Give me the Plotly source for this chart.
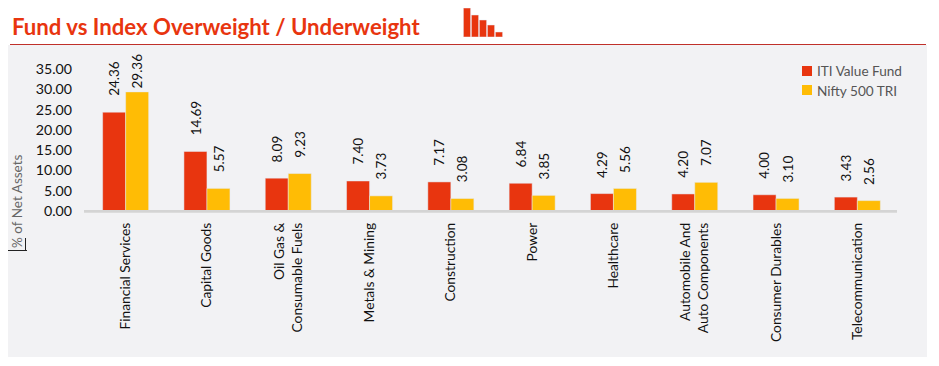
import plotly.graph_objects as go

categories = ["Financial Services", "Capital Goods", "Oil Gas &<br>Consumable Fuels", "Metals & Mining",
              "Construction", "Power", "Healthcare", "Automobile And<br>Auto Components",
              "Consumer Durables", "Telecommunication"]
fund_name = "ITI Value Fund"
index_name = "Nifty 500 TRI"
fund = [24.36, 14.69, 8.09, 7.40, 7.17, 6.84, 4.29, 4.20, 4.00, 3.43]
index = [29.36, 5.57, 9.23, 3.73, 3.08, 3.85, 5.56, 7.07, 3.10, 2.56]
y_ticks = [0, 5, 10, 15, 20, 25, 30, 35]
icon_labels = ["a", "b", "c", "d", "e"]
icon_values = [29, 22, 17, 12, 5]

RED, YEL = "#E8350F", "#FFBC05"
FONT = "Lato"
OFF = 8  # the page body margin
W, H = 939 - 2 * OFF, 366 - 2 * OFF
L, R, T, B = 85, 898, 69, 211

def px(x): return (x - OFF) / W
def py(y): return 1 - (y - OFF) / H

def hline(x0, x1, y, color, width, layer="above"):
    return dict(type="line", xref="paper", yref="paper", x0=px(x0), x1=px(x1), y0=py(y), y1=py(y),
                line=dict(color=color, width=width), layer=layer)

def box(x0, x1, y0, y1, color, layer="above"):
    return dict(type="rect", xref="paper", yref="paper", x0=px(x0), x1=px(x1), y0=py(y0), y1=py(y1),
                fillcolor=color, line_width=0, layer=layer)

fig = go.Figure()
fig.add_bar(x=categories, y=fund, name=fund_name, marker_color=RED, offsetgroup="a", cliponaxis=False)
fig.add_bar(x=categories, y=index, name=index_name, marker_color=YEL, offsetgroup="b", cliponaxis=False)
fig.add_bar(x=icon_labels, y=icon_values, xaxis="x2", yaxis="y2", marker_color=RED, showlegend=False, width=0.9)

for i, c in enumerate(categories):
    for vals, dx in ((fund, -11.5), (index, 11.5)):
        v = vals[i]
        fig.add_annotation(x=c, y=v, xref="x", yref="y", text=f"{v:.2f}", textangle=-90, showarrow=False,
                           xshift=dx, yshift=1 if v > 29 else 14, yanchor="bottom",
                           font=dict(family=FONT, size=13.5, color="#111111"))

fig.add_annotation(x=px(10), y=py(27), xref="paper", yref="paper", xanchor="left", yanchor="middle",
                   text="<b>Fund vs Index Overweight / Underweight</b>", showarrow=False,
                   font=dict(family=FONT, size=22.2, color=RED))
fig.add_annotation(x=px(17), y=py(202), xref="paper", yref="paper", xanchor="center", yanchor="middle",
                   text="% of Net Assets", textangle=-90, showarrow=False,
                   font=dict(family=FONT, size=13.5, color="#666666"))
for name, y in ((fund_name, 71), (index_name, 91)):
    fig.add_annotation(x=px(815), y=py(y), xref="paper", yref="paper", xanchor="left", yanchor="middle",
                       text=name, showarrow=False, font=dict(family=FONT, size=13.6, color="#555555"))

shapes = [
    box(OFF, 927, 45, 357, "#F2F2F4", "below"),
    hline(10, 926, 44.5, "#C0302A", 1),
    hline(84, 897, 211.4, "#D4D4D4", 2.7),
    hline(OFF, 27, 250.5, "#222222", 1),
    dict(type="line", xref="paper", yref="paper", x0=px(25.5), x1=px(25.5), y0=py(238), y1=py(250),
         line=dict(color="#222222", width=1)),
    box(802, 812, 66, 76, RED),
    box(802, 812, 85, 95, YEL),
]

fig.update_layout(
    width=W, height=H, margin=dict(l=0, r=0, t=0, b=0, pad=0),
    paper_bgcolor="white", plot_bgcolor="rgba(0,0,0,0)",
    barmode="group", bargap=0.434, bargroupgap=0, shapes=shapes, autosize=False, showlegend=False,
    font=dict(family=FONT, color="#111111"),
    xaxis=dict(domain=[px(L), px(R)], automargin=False, tickangle=-90, showgrid=False, ticks="", showline=False,
               zeroline=False, tickfont=dict(family=FONT, size=13.8, color="#111111"), ticklabelstandoff=8),
    yaxis=dict(domain=[py(B), py(T)], automargin=False, range=[0, 35], tickvals=y_ticks, tickformat=".2f",
               showgrid=False, zeroline=False, showline=False, ticks="", ticklabelstandoff=12,
               tickfont=dict(family=FONT, size=14.2, color="#111111")),
    xaxis2=dict(domain=[px(463), px(503)], anchor="y2", visible=False, fixedrange=True, automargin=False),
    yaxis2=dict(domain=[py(37), py(8)], anchor="x2", range=[0, 29], visible=False, fixedrange=True, automargin=False),
)
fig.write_html("out.html")
